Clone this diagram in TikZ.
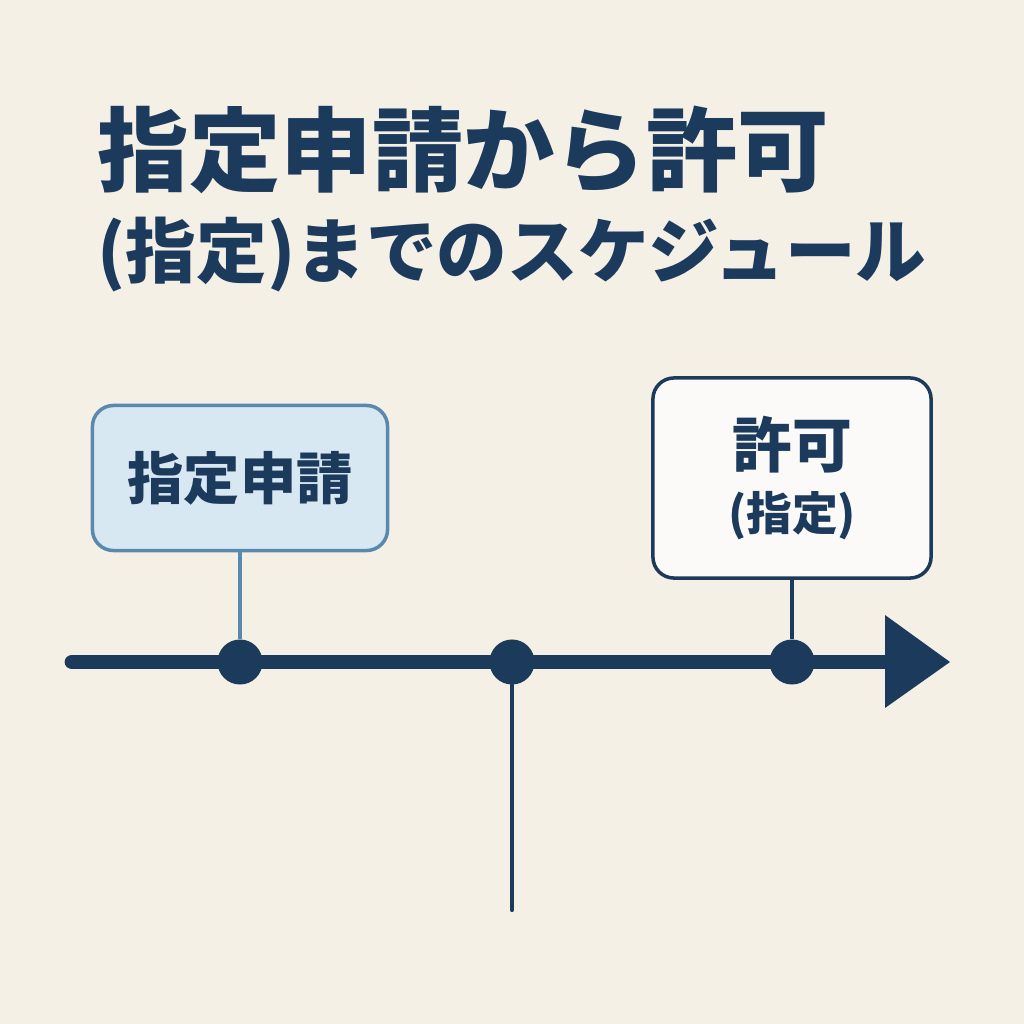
\documentclass[tikz,border=0pt]{standalone}
\usepackage{fontspec}
\newfontfamily\cjk{Noto Sans CJK JP}
\usetikzlibrary{positioning}
\definecolor{navy}{HTML}{1B3A5C}
\definecolor{paper}{HTML}{F5F0E6}
\definecolor{lightblue}{HTML}{D8E8F3}
\definecolor{midblue}{HTML}{5A88AE}
\begin{document}
\begin{tikzpicture}[
            x=0.01cm,y=-0.01cm,
            every node/.style={font=\cjk\bfseries,text=navy},
            stage/.style={draw,rounded corners=6pt,line width=1pt},
            dot/.style={circle,fill=navy,minimum size=0.45cm,inner sep=0pt},
            >=latex
        ]
        % Background %
        \fill[paper] (0,0) rectangle (1024,1024);
        \useasboundingbox (0,0) rectangle (1024,1024);

        % Title %
        \node[anchor=west,inner sep=0pt,font=\cjk\bfseries\fontsize{26}{30}\selectfont] (t1) at (97,150) {指定申請から許可};
        \node[anchor=west,inner sep=0pt] (t2) at (97,255)
            {\resizebox{8.28cm}{!}{\fontsize{22}{26}\selectfont (指定)までのスケジュール}};

        % Draw axis %
        \coordinate (start) at (72,662);
        \coordinate (tip) at (888,662);
        \draw[navy,line width=4.2pt,line cap=round] (start) -- (tip);
        \fill[navy] (885,615) -- (950,662) -- (885,708) -- cycle;
        \coordinate (foot) at (512,910);

        % Draw dots %
        \node[dot] (d1) at (240,662) {};
        \node[dot] (d2) at (512,662) {};
        \node[dot] (d3) at (792,662) {};

        % Draw boxes %
        \node[stage,draw=midblue,fill=lightblue,minimum width=2.95cm,minimum height=1.45cm,font=\cjk\bfseries\fontsize{16}{19}\selectfont] (apply) at (240,478) {指定申請};
        \node[stage,draw=navy,fill=white!70!paper,minimum width=2.78cm,minimum height=2cm,align=center] (permit) at (792,478)
            {{\fontsize{17}{20}\selectfont 許可}\\[4pt]{\fontsize{13}{16}\selectfont (指定)}};

        % Draw connectors %
        \draw[midblue,line width=1pt] (apply) -- (d1);
        \draw[navy,line width=0.9pt] (permit) -- (d3);
        \draw[navy,line width=1.2pt,line cap=round] (d2) -- (foot);
\end{tikzpicture}
\end{document}
